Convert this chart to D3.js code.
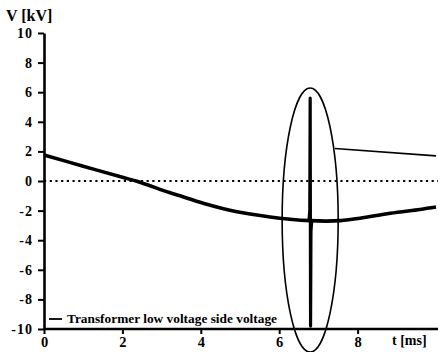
<!DOCTYPE html>
<html><head><meta charset="utf-8">
<script src="https://cdn.jsdelivr.net/npm/d3@7"></script>
<style>
html,body{margin:0;padding:0;background:#fff;}
svg{display:block;}
text{font-family:"Liberation Serif","Times New Roman",serif !important;font-weight:bold;fill:#000;}
</style></head>
<body>
<svg id="c" width="438" height="352"></svg>
<script>
// Data
const xTicks = [0, 2, 4, 6, 8];
const yTicks = [-10, -8, -6, -4, -2, 0, 2, 4, 6, 8, 10];
const lowSideT = [0, 1, 2, 2.37, 3.2, 3.47, 4.06, 4.92, 5.77, 6.28, 6.79, 7.2, 7.55, 8.06, 8.83, 9.59, 10];
const lowSideV = [1.76, 1.0, 0.25, -0.02, -0.78, -1.0, -1.5, -2.08, -2.43, -2.58, -2.68, -2.71, -2.68, -2.52, -2.18, -1.92, -1.76];
const spikeT = [6.76, 6.78, 6.79, 6.8, 6.81, 6.83];
const spikeV = [-2.66, -2.0, 5.6, -9.8, -3.4, -2.7];
const otherT = [7.42, 10];
const otherV = [2.2, 1.7];
const ellipseCenter = [6.79, -2.64];
const ellipseRadii = [0.715, 8.92];
const legendLabel = "Transformer low voltage side voltage";
const xLabel = "t [ms]";
const yLabel = "V [kV]";

const svg = d3.select("#c");
const x = d3.scaleLinear().domain([0, 10]).range([44, 436]);
const y = d3.scaleLinear().domain([-10, 10]).range([329, 33]);

// zero dotted line
svg.append("line")
  .attr("x1", x(0)).attr("x2", 438)
  .attr("y1", y(0)).attr("y2", y(0))
  .attr("stroke", "#000").attr("stroke-width", 2.2)
  .attr("stroke-dasharray", "2.2,3.5");

const line = d3.line().x(d => x(d[0])).y(d => y(d[1])).curve(d3.curveCatmullRom.alpha(0.5));

// other thin line
svg.append("path")
  .datum(otherT.map((t, i) => [t, otherV[i]]))
  .attr("d", d3.line().x(d => x(d[0])).y(d => y(d[1])))
  .attr("fill", "none").attr("stroke", "#000").attr("stroke-width", 1.6);

// main thick curve
svg.append("path")
  .datum(lowSideT.map((t, i) => [t, lowSideV[i]]))
  .attr("d", line)
  .attr("fill", "none").attr("stroke", "#000").attr("stroke-width", 3.6)
  .attr("stroke-linejoin", "round");

// spike
svg.append("path")
  .datum(spikeT.map((t, i) => [t, spikeV[i]]))
  .attr("d", d3.line().x(d => x(d[0])).y(d => y(d[1])))
  .attr("fill", "none").attr("stroke", "#000").attr("stroke-width", 3.2)
  .attr("stroke-linejoin", "round");

// ellipse
svg.append("ellipse")
  .attr("cx", x(ellipseCenter[0])).attr("cy", y(ellipseCenter[1]))
  .attr("rx", x(ellipseRadii[0]) - x(0)).attr("ry", y(0) - y(ellipseRadii[1]))
  .attr("fill", "none").attr("stroke", "#000").attr("stroke-width", 1.6);

// axes
const xAxis = svg.append("g").attr("transform", `translate(0,${y(-10)})`)
  .call(d3.axisBottom(x).tickValues(xTicks).tickSize(5).tickSizeOuter(0).tickPadding(3).tickFormat(d3.format("d")));
xAxis.attr("font-family", null);
xAxis.select(".domain").attr("stroke-width", 2.6).attr("d", `M${x(0)},0H438`);
xAxis.selectAll(".tick line").attr("stroke-width", 2);
xAxis.selectAll("text").attr("font-size", 14.5);

const yAxis = svg.append("g").attr("transform", `translate(${x(0)},0)`)
  .call(d3.axisLeft(y).tickValues(yTicks).tickSize(6).tickSizeOuter(0).tickPadding(5).tickFormat(d3.format("d")));
yAxis.attr("font-family", null);
yAxis.select(".domain").attr("stroke-width", 2.6);
yAxis.selectAll(".tick line").attr("stroke-width", 2);
yAxis.selectAll("text").attr("font-size", 14).attr("letter-spacing", 1).text(d => d < 0 ? "-" + Math.abs(d) : d);

// axis labels
svg.append("text").attr("x", 6).attr("y", 21).attr("font-size", 16).text(yLabel);
svg.append("text").attr("x", 392).attr("y", 345).attr("font-size", 14).text(xLabel);

// legend
svg.append("line").attr("x1", 49).attr("x2", 62).attr("y1", 319).attr("y2", 319)
  .attr("stroke", "#000").attr("stroke-width", 1.8);
svg.append("text").attr("x", 67).attr("y", 323).attr("font-size", 12.5)
  .attr("textLength", 210).attr("lengthAdjust", "spacingAndGlyphs").text(legendLabel);
</script>
</body></html>
